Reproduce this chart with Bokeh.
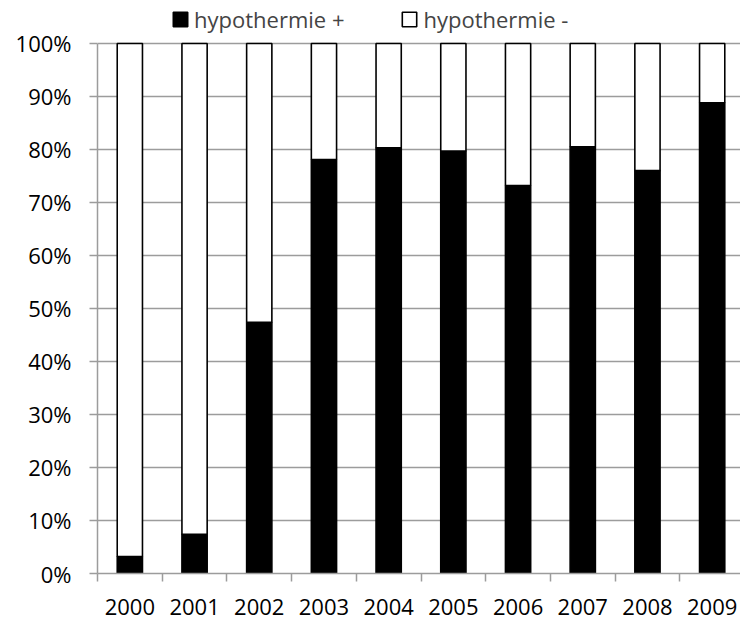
from bokeh.plotting import figure
from bokeh.models import ColumnDataSource, FixedTicker, Range1d, Legend, LegendItem
from bokeh.embed import file_html
from bokeh.resources import INLINE

# ---- data ----
years = ["2000", "2001", "2002", "2003", "2004", "2005", "2006", "2007", "2008", "2009"]
hypo_pos = [3.2, 7.4, 47.4, 78.1, 80.3, 79.7, 73.2, 80.5, 76.0, 88.8]
hypo_neg = [96.8, 92.6, 52.6, 21.9, 19.7, 20.3, 26.8, 19.5, 24.0, 11.2]
y_ticks = [0, 10, 20, 30, 40, 50, 60, 70, 80, 90, 100]
y_tick_labels = ["0%", "10%", "20%", "30%", "40%", "50%", "60%", "70%", "80%", "90%", "100%"]
legend_labels = ["hypothermie +", "hypothermie -"]

FONT = "Open Sans"
FSIZE = "22px"
GRID = "#9c9c9c"

xs = list(range(len(years)))
src = ColumnDataSource(dict(x=xs, pos=hypo_pos, neg=hypo_neg))

# frame spans the whole height above the axis so the legend (drawn inside it) sits on top
p = figure(width=740, height=621, output_backend="svg", toolbar_location=None,
           x_range=Range1d(-0.5, 9.438), y_range=Range1d(0, 108.1),
           min_border_left=97, min_border_right=0, min_border_top=0, min_border_bottom=48)
p.outline_line_color = None
p.background_fill_color = "white"
p.border_fill_color = "white"

rs = p.vbar_stack(["pos", "neg"], x="x", width=0.39, source=src,
                  fill_color=["black", "white"], line_color="black", line_width=1.6)

# x axis
p.xaxis.ticker = FixedTicker(ticks=xs, minor_ticks=[i - 0.5 for i in range(len(years) + 1)])
p.xaxis.major_label_overrides = {i: y for i, y in enumerate(years)}
p.xaxis.major_tick_line_color = None
p.xaxis.major_tick_out = 0
p.xaxis.major_tick_in = 0
p.xaxis.minor_tick_out = 8
p.xaxis.minor_tick_in = 0
p.xaxis.minor_tick_line_color = GRID
p.xaxis.minor_tick_line_width = 1.5
p.xaxis.major_label_standoff = 17

# y axis
p.yaxis.ticker = FixedTicker(ticks=y_ticks)
p.yaxis.bounds = (y_ticks[0], y_ticks[-1])
p.yaxis.major_label_overrides = {v: l for v, l in zip(y_ticks, y_tick_labels)}
p.yaxis.major_tick_out = 8
p.yaxis.major_tick_in = 0
p.yaxis.major_tick_line_color = GRID
p.yaxis.major_tick_line_width = 1.5
p.yaxis.minor_tick_line_color = None
p.yaxis.major_label_standoff = 18

for ax in (p.xaxis, p.yaxis):
    ax.axis_line_color = GRID
    ax.axis_line_width = 1.5
    ax.major_label_text_font = FONT
    ax.major_label_text_font_size = FSIZE
    ax.major_label_text_color = "black"

p.xgrid.visible = False
p.ygrid.ticker = FixedTicker(ticks=y_ticks)
p.ygrid.grid_line_color = GRID
p.ygrid.grid_line_width = 1.5

legend = Legend(items=[LegendItem(label=legend_labels[0], renderers=[rs[0]]),
                       LegendItem(label=legend_labels[1], renderers=[rs[1]])],
                orientation="horizontal", location=(74, 539),
                border_line_color=None, background_fill_alpha=0,
                padding=0, margin=0, spacing=56, glyph_width=18, glyph_height=18,
                label_standoff=5, label_text_font=FONT, label_text_font_size=FSIZE)
p.add_layout(legend)

open("out.html", "w").write(file_html(p, INLINE))
